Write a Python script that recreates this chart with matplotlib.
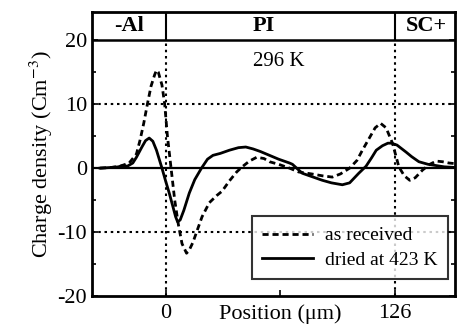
import numpy as np
import matplotlib.pyplot as plt

plt.rcParams['font.family'] = ['Liberation Serif', 'DejaVu Serif']
plt.rcParams['mathtext.fontset'] = 'stix'
plt.rcParams['axes.unicode_minus'] = False

# as received (dashed)
x_recv = [-36, -30, -25, -20, -16, -14, -12, -10, -8, -6, -5, -4, -2, -0.5, 1, 3, 5, 7, 9, 11.5, 13,
          15, 17, 20, 24, 28, 31, 35, 39, 42, 46, 50, 54, 57, 62, 68, 73, 80, 86, 91.5, 96, 101,
          105, 108, 112, 115, 118, 121, 124.5, 126.5, 128, 131, 134, 137, 141, 145, 148.5, 152, 155.5, 159]
y_recv = [0, 0.1, 0.3, 0.8, 2.2, 4.4, 7.0, 10.0, 12.8, 14.6, 15.3, 15.0, 13.0, 10.0, 5.0, 0, -5.0, -8.8, -11.8, -13.3, -12.8,
          -11.6, -10.0, -7.6, -5.4, -4.3, -3.6, -2.0, -0.6, 0.2, 1.1, 1.7, 1.5, 1.0, 0.6, 0, -0.6, -0.9, -1.2, -1.4, -0.9, 0,
          1.2, 2.8, 4.8, 6.3, 7.0, 6.3, 3.9, 1.8, 0.2, -1.2, -1.9, -1.5, -0.3, 0.6, 1.1, 1.0, 0.8, 0.7]

# dried at 423 K (solid)
x_dried = [-36, -30, -26, -23.5, -21, -18, -16, -13, -11, -9, -7, -5, -3.5, -2, 0, 2, 4, 5.5, 6.6, 8, 10,
           13, 16, 19.7, 23, 26, 30, 35, 40, 44, 48, 52, 57, 62, 68, 69.6, 75, 80, 86, 91, 97, 101,
           106, 110, 113, 115.6, 119, 122, 124, 127, 132, 135, 139, 144, 148.5, 153, 159]
y_dried = [0, 0.1, 0.2, 0.4, 0.3, 0.8, 1.7, 3.3, 4.3, 4.7, 4.2, 2.8, 1.4, 0, -2.0, -3.9, -6.0, -7.6, -8.4, -8.1, -6.6,
           -3.9, -1.8, 0, 1.4, 2.0, 2.3, 2.8, 3.2, 3.3, 3.0, 2.6, 2.0, 1.4, 0.8, 0.6, -0.8, -1.3, -1.9, -2.3, -2.6, -2.3,
           -0.8, 0.3, 1.6, 2.8, 3.5, 3.9, 3.9, 3.6, 2.5, 1.8, 1.0, 0.6, 0.4, 0.2, 0.1]

fig = plt.figure(figsize=(4.59, 3.29), dpi=100)
ax = fig.add_axes([0.200, 0.100, 0.792, 0.8635])

ax.axhline(0, color='black', lw=1.6)
ax.axhline(10, color='black', lw=1.5, ls=(0, (1.2, 1.8)))
ax.axhline(-10, color='black', lw=1.5, ls=(0, (1.2, 1.8)))
ax.axvline(0, ymax=(20 + 20) / 44.4, color='black', lw=1.5, ls=(0, (1.2, 1.8)))
ax.axvline(126, ymax=(20 + 20) / 44.4, color='black', lw=1.5, ls=(0, (1.2, 1.8)))

# header strip
ax.axhline(20, color='black', lw=1.8)
ax.plot([0, 0], [20, 24.4], color='black', lw=1.5)
ax.plot([126, 126], [20, 24.4], color='black', lw=1.5)
ax.text(-20, 22.2, '-Al', ha='center', va='center', fontsize=16, fontweight='bold')
ax.text(54, 22.2, 'PI', ha='center', va='center', fontsize=16, fontweight='bold')
ax.text(143, 22.2, 'SC+', ha='center', va='center', fontsize=16, fontweight='bold')
ax.text(62, 16.7, '296 K', ha='center', va='center', fontsize=15)

ax.plot(x_recv, y_recv, color='black', lw=2.0, ls=(0, (2.2, 1.4)), label='as received')
ax.plot(x_dried, y_dried, color='black', lw=2.0, label='dried at 423 K')

ax.set_xlim(-40.5, 159)
ax.set_ylim(-20, 24.4)
ax.set_yticks([-20, -10, 0, 10, 20])
ax.set_yticks([-15, -5, 5, 15], minor=True)
ax.set_xticks([0, 63, 126])
ax.set_xticklabels(['0', 'Position (μm)', '126'])
ax.tick_params(axis='both', which='both', direction='in', right=True, labelsize=16, width=1.2)
ax.tick_params(axis='both', which='major', length=4)
ax.tick_params(axis='both', which='minor', length=3)
ax.tick_params(axis='x', pad=6)
for s in ax.spines.values():
    s.set_linewidth(2.0)

ax.set_ylabel('Charge density (Cm$^{-3}$)', fontsize=16, labelpad=2)

leg = ax.legend(loc='lower right', bbox_to_anchor=(0.99, 0.045), fontsize=14, frameon=True,
                fancybox=False, edgecolor='black', handlelength=2.6, borderpad=0.55,
                labelspacing=0.35, handletextpad=0.6, borderaxespad=0.2)
leg.get_frame().set_linewidth(1.5)

fig.savefig('out.png', dpi=100)
